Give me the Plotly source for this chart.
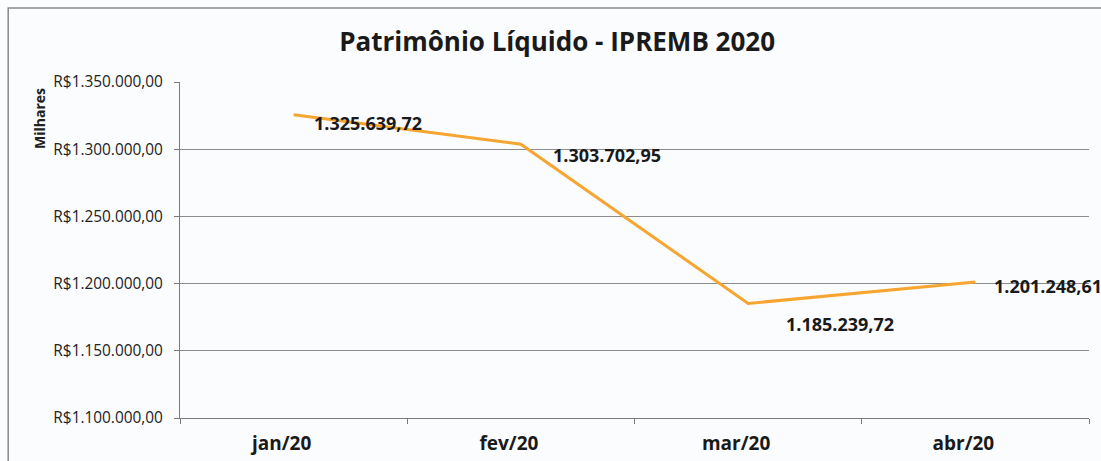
import plotly.graph_objects as go

categories = ["jan/20", "fev/20", "mar/20", "abr/20"]
values = [1325639.72, 1303702.95, 1185239.72, 1201248.61]
value_labels = ["1.325.639,72", "1.303.702,95", "1.185.239,72", "1.201.248,61"]
title_text = "Patrimônio Líquido - IPREMB 2020"
y_title = "Milhares"

label_shift_x = [18, 30, 36, 17]
label_shift_y = [-8, -11, -21, -4]

fig = go.Figure()
fig.add_trace(go.Scatter(
    x=categories, y=values, mode="lines",
    line=dict(color="#F6A531", width=3),
    hoverinfo="x+y", showlegend=False,
))

for c, v, t, dx, dy in zip(categories, values, value_labels, label_shift_x, label_shift_y):
    fig.add_annotation(x=c, y=v, text="<b>" + t + "</b>", showarrow=False,
                       xanchor="left", yanchor="middle", xshift=dx, yshift=dy,
                       font=dict(family="Open Sans", size=18, color="#1a1a1a"))

fig.add_annotation(xref="paper", yref="paper", x=-0.154, y=0.89, text="<b>" + y_title + "</b>",
                   textangle=-90, showarrow=False, xanchor="center", yanchor="middle",
                   font=dict(family="Open Sans", size=14, color="#222"))

fig.add_shape(type="rect", xref="paper", yref="paper",
              x0=-0.189, x1=1.03, y0=-0.2, y1=1.22,
              line=dict(color="#8a8a8a", width=1.5), layer="below")

fig.update_layout(
    width=1101, height=461,
    margin=dict(l=180, r=12, t=82, b=43, autoexpand=False),
    paper_bgcolor="#fbfcfe", plot_bgcolor="#fbfcfe",
    separators=",.",
    title=dict(text="<b>" + title_text + "</b>", x=0.506, xanchor="center",
               y=0.91, yanchor="middle",
               font=dict(family="Open Sans", size=26, color="#1a1a1a")),
    xaxis=dict(type="category", showgrid=False, showline=True, linecolor="#7a7a7a",
               linewidth=1, ticks="outside", tickson="boundaries", ticklen=5,
               tickcolor="#7a7a7a", range=[-0.5, 3.5], automargin=False,
               ticklabelstandoff=8, ticklabelshift=-12,
               tickfont=dict(family="Open Sans", size=19, color="#1a1a1a"),
               tickprefix="<b>", ticksuffix="</b>"),
    yaxis=dict(range=[1100000, 1350000], dtick=50000, tickformat=",.2f",
               tickprefix="R$", showgrid=True, gridcolor="#8c8c8c", gridwidth=1,
               showline=True, linecolor="#7a7a7a", linewidth=1,
               ticks="outside", ticklen=5, tickcolor="#7a7a7a",
               ticklabelstandoff=8, automargin=False,
               zeroline=False,
               tickfont=dict(family="Open Sans", size=15.4, color="#222")),
)

fig.write_html("out.html", config={"displayModeBar": False},
               post_script="document.body.style.margin='0';")
